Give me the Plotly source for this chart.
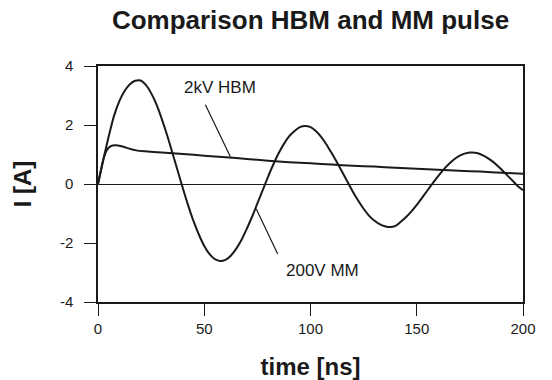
import plotly.graph_objects as go

# ---- data ----
mm_t = [0, 2.5, 5, 7.5, 10, 12.5, 15, 17.5, 20, 22.5, 25, 27.5, 30, 32.5, 35, 37.5, 40, 42.5, 45, 47.5,
        50, 52.5, 55, 57.5, 60, 62.5, 65, 67.5, 70, 72.5, 75, 77.5, 80, 82.5, 85, 87.5, 90, 92.5, 95, 97.5,
        100, 102.5, 105, 107.5, 110, 112.5, 115, 117.5, 120, 122.5, 125, 127.5, 130, 132.5, 135, 137.5,
        140, 142.5, 145, 147.5, 150, 152.5, 155, 157.5, 160, 162.5, 165, 167.5, 170, 172.5, 175, 177.5,
        180, 182.5, 185, 187.5, 190, 192.5, 195, 197.5, 200]
mm_i = [0, 0.82, 1.6, 2.3, 2.8, 3.15, 3.38, 3.5, 3.51, 3.36, 3.08, 2.7, 2.21, 1.66, 1.06, 0.45, -0.16, -0.74, -1.27, -1.72,
        -2.1, -2.38, -2.55, -2.61, -2.57, -2.43, -2.2, -1.9, -1.52, -1.11, -0.66, -0.21, 0.24, 0.66, 1.04, 1.36, 1.62, 1.8, 1.93, 1.97,
        1.93, 1.8, 1.6, 1.34, 1.04, 0.73, 0.4, 0.06, -0.27, -0.57, -0.84, -1.07, -1.24, -1.36, -1.43, -1.46,
        -1.42, -1.28, -1.12, -0.93, -0.71, -0.47, -0.22, 0.02, 0.26, 0.48, 0.67, 0.83, 0.95, 1.03, 1.07, 1.06,
        1.01, 0.92, 0.8, 0.65, 0.48, 0.3, 0.12, -0.07, -0.21]

hbm_t = [0, 1, 2, 3, 4, 5, 6, 8, 10, 12, 15, 18, 22, 30, 40, 50, 60, 70, 80, 90, 100,
         110, 120, 130, 140, 150, 160, 170, 180, 190, 200]
hbm_i = [0, 0.35, 0.68, 0.95, 1.13, 1.23, 1.28, 1.31, 1.3, 1.26, 1.19, 1.14, 1.11, 1.07, 1.02, 0.96, 0.91, 0.85,
         0.79, 0.74, 0.7, 0.66, 0.62, 0.59, 0.55, 0.52, 0.48, 0.45, 0.42, 0.38, 0.35]

x_ticks = [0, 50, 100, 150, 200]
x_ticktext = ["0", "50", "100", "150", "200"]
y_ticks = [-4, -2, 0, 2, 4]
y_ticktext = ["-4", "-2", "0", "2", "4"]

title_text = "Comparison HBM and MM pulse"
x_title = "time [ns]"
y_title = "I [A]"
hbm_label = "2kV HBM"
mm_label = "200V MM"

FONT = "Liberation Sans, Arial, Helvetica, sans-serif"
INK = "#1a1a1a"

fig = go.Figure()
fig.add_trace(go.Scatter(x=mm_t, y=mm_i, mode="lines", name=mm_label,
                         line=dict(color=INK, width=2, shape="spline", smoothing=0.8),
                         showlegend=False))
fig.add_trace(go.Scatter(x=hbm_t, y=hbm_i, mode="lines", name=hbm_label,
                         line=dict(color=INK, width=2, shape="spline", smoothing=0.6),
                         showlegend=False))

# leader lines (arrow only) and labels
fig.add_annotation(x=62.3, y=0.92, ax=50.2, ay=2.74, axref="x", ayref="y", xref="x", yref="y",
                   text="", showarrow=True, arrowhead=0, arrowwidth=1.2, arrowcolor=INK)
fig.add_annotation(x=74.5, y=-0.85, ax=84.9, ay=-2.42, axref="x", ayref="y", xref="x", yref="y",
                   text="", showarrow=True, arrowhead=0, arrowwidth=1.2, arrowcolor=INK)
fig.add_annotation(x=39.5, y=3.26, xref="x", yref="y", text=hbm_label, showarrow=False,
                   xanchor="left", yanchor="middle", font=dict(family=FONT, size=17, color=INK))
fig.add_annotation(x=87.5, y=-2.92, xref="x", yref="y", text=mm_label, showarrow=False,
                   xanchor="left", yanchor="middle", font=dict(family=FONT, size=17, color=INK))

fig.update_layout(
    width=552, height=380,
    margin=dict(l=97.5, r=28.5, t=66, b=78),
    paper_bgcolor="white", plot_bgcolor="white",
    title=dict(text="<b>" + title_text + "</b>", x=0.5, xref="paper", y=1 - 20 / 380, yref="container",
               xanchor="center", yanchor="middle", font=dict(family=FONT, size=26, color=INK)),
    font=dict(family=FONT, color=INK),
)
fig.update_xaxes(range=[0, 200], tickvals=x_ticks, ticktext=x_ticktext, ticks="outside", ticklen=12,
                 tickwidth=1.3, tickcolor=INK, showline=True, linecolor=INK, linewidth=1.5, mirror=True,
                 showgrid=False, zeroline=False, automargin=False,
                 tickfont=dict(family=FONT, size=15, color=INK),
                 title=dict(text="<b>" + x_title + "</b>", standoff=22,
                            font=dict(family=FONT, size=24, color=INK)))
fig.update_yaxes(range=[-4, 4], tickvals=y_ticks, ticktext=y_ticktext, ticks="outside", ticklen=12,
                 tickwidth=1.3, tickcolor=INK, showline=True, linecolor=INK, linewidth=1.5, mirror=True,
                 showgrid=False, zeroline=True, zerolinecolor=INK, zerolinewidth=1.3,
                 automargin=False, ticklabelstandoff=8,
                 tickfont=dict(family=FONT, size=15, color=INK),
                 title=dict(text="<b>" + y_title + "</b>", standoff=22,
                            font=dict(family=FONT, size=24, color=INK)))

fig.write_html("out.html")
